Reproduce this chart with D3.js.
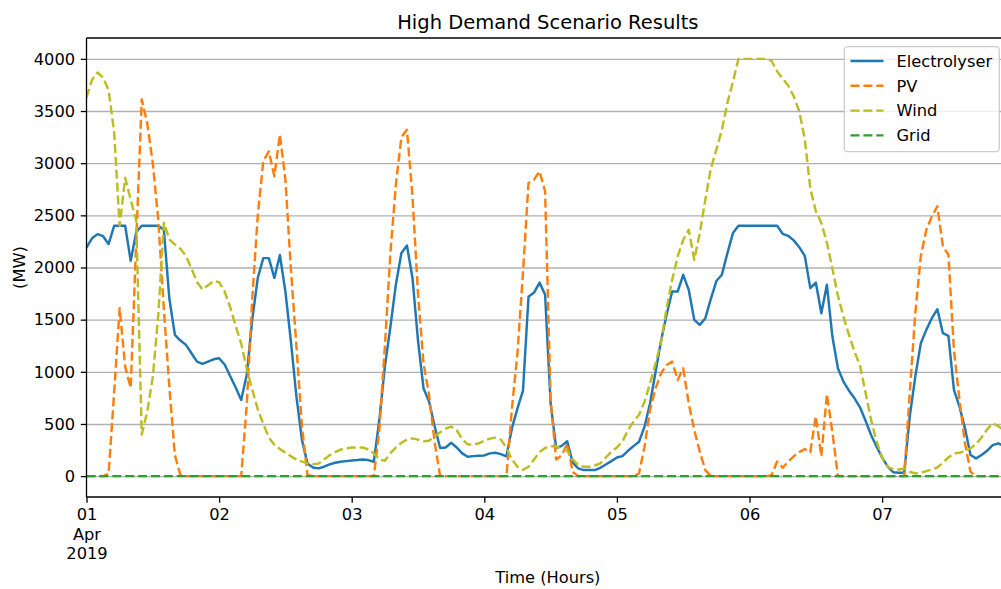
<!DOCTYPE html>
<html>
<head>
<meta charset="utf-8">
<script src="https://cdn.jsdelivr.net/npm/d3@7"></script>
<style>
  html, body { margin: 0; padding: 0; background: #fff; }
  svg { display: block; font-family: "DejaVu Sans", sans-serif; }
</style>
</head>
<body>
<svg id="chart" width="1001" height="589"></svg>
<script>
// Hourly dispatch, 1 Apr 2019 00:00 onwards (MW)
const electrolyser = [
  2190, 2280, 2320, 2300, 2225, 2400, 2400, 2400, 2064, 2340, 2400, 2400,
  2400, 2400, 2360, 1700, 1354, 1300, 1258, 1178, 1098, 1075, 1098, 1120,
  1130, 1070, 960, 850, 730, 970, 1500, 1900, 2090, 2090, 1900, 2120,
  1770, 1290, 760, 345, 120, 83, 74, 90, 112, 128, 138, 144,
  150, 154, 160, 154, 138, 540, 1050, 1430, 1840, 2140, 2210, 1900,
  1300, 840, 715, 480, 270, 275, 320, 275, 218, 186, 192, 195,
  198, 218, 224, 211, 190, 460, 650, 820, 1720, 1760, 1855, 1740,
  700, 270, 290, 335, 130, 74, 58, 58, 58, 80, 112, 144,
  179, 192, 243, 288, 330, 474, 698, 1000, 1300, 1550, 1770, 1770,
  1930, 1786, 1498, 1450, 1514, 1700, 1870, 1930, 2138, 2330, 2400, 2400,
  2400, 2400, 2400, 2400, 2400, 2400, 2323, 2304, 2260, 2195, 2112, 1802,
  1856, 1562, 1834, 1338, 1034, 906, 819, 746, 660, 531, 394, 282,
  179, 90, 38, 32, 32, 570, 954, 1274, 1402, 1514, 1600, 1370,
  1344, 826, 666, 458, 202, 170, 202, 243, 298, 314, 290, 280
];

const pv = [
  0, 0, 0, 0, 20, 800, 1610, 1050, 845, 2250, 3610, 3380,
  3000, 2450, 1600, 850, 200, 10, 0, 0, 0, 0, 0, 0,
  0, 0, 0, 0, 0, 680, 1700, 2500, 3018, 3114, 2874, 3274,
  2842, 1978, 1242, 474, 10, 0, 0, 0, 0, 0, 0, 0,
  0, 0, 0, 0, 0, 442, 1242, 2138, 2800, 3250, 3320, 2680,
  1750, 1080, 780, 330, 0, 0, 0, 0, 0, 0, 0, 0,
  0, 0, 0, 0, 0, 650, 1180, 1950, 2810, 2842, 2922, 2730,
  730, 160, 200, 310, 40, 0, 0, 0, 0, 0, 0, 0,
  0, 0, 0, 0, 26, 282, 634, 842, 986, 1066, 1098, 922,
  1034, 698, 442, 234, 58, 0, 0, 0, 0, 0, 0, 0,
  0, 0, 0, 0, 10, 140, 80, 140, 190, 230, 260, 230,
  575, 190, 786, 420, 0, 0, 0, 0, 0, 0, 0, 0,
  0, 0, 0, 0, 0, 794, 1560, 2106, 2362, 2490, 2586, 2202,
  2122, 1210, 730, 314, 42, 0, 0, 0, 0, 0, 0, 0
];

const wind = [
  3630, 3800, 3870, 3820, 3700, 3300, 2400, 2860, 2650, 2450, 400, 620,
  950, 1550, 2430, 2270, 2220, 2180, 2110, 1990, 1860, 1790, 1830, 1870,
  1860, 1770, 1620, 1440, 1270, 1030, 830, 640, 500, 370, 300, 260,
  225, 190, 160, 140, 122, 115, 120, 160, 200, 230, 255, 265,
  275, 275, 275, 255, 220, 160, 147, 220, 275, 320, 350, 362,
  350, 335, 340, 380, 420, 455, 475, 440, 355, 305, 300, 315,
  340, 360, 368, 350, 270, 160, 90, 60, 90, 160, 230, 270,
  288, 282, 266, 243, 160, 106, 90, 90, 102, 122, 179, 234,
  275, 330, 442, 522, 586, 714, 890, 1082, 1290, 1610, 1882, 2106,
  2266, 2362, 2074, 2330, 2650, 2950, 3130, 3320, 3580, 3780, 4000, 4000,
  4000, 4000, 4000, 4000, 3980, 3880, 3810, 3745, 3640, 3500, 3230, 2760,
  2540, 2426, 2240, 1990, 1730, 1530, 1354, 1194, 1060, 800, 540, 330,
  180, 90, 64, 64, 70, 42, 26, 32, 48, 64, 83, 128,
  179, 218, 224, 240, 266, 307, 371, 448, 506, 480, 440, 420
];

const grid = [
  0, 0, 0, 0, 0, 0, 0, 0, 0, 0, 0, 0, 0, 0, 0, 0, 0, 0, 0, 0, 0, 0, 0, 0,
  0, 0, 0, 0, 0, 0, 0, 0, 0, 0, 0, 0, 0, 0, 0, 0, 0, 0, 0, 0, 0, 0, 0, 0,
  0, 0, 0, 0, 0, 0, 0, 0, 0, 0, 0, 0, 0, 0, 0, 0, 0, 0, 0, 0, 0, 0, 0, 0,
  0, 0, 0, 0, 0, 0, 0, 0, 0, 0, 0, 0, 0, 0, 0, 0, 0, 0, 0, 0, 0, 0, 0, 0,
  0, 0, 0, 0, 0, 0, 0, 0, 0, 0, 0, 0, 0, 0, 0, 0, 0, 0, 0, 0, 0, 0, 0, 0,
  0, 0, 0, 0, 0, 0, 0, 0, 0, 0, 0, 0, 0, 0, 0, 0, 0, 0, 0, 0, 0, 0, 0, 0,
  0, 0, 0, 0, 0, 0, 0, 0, 0, 0, 0, 0, 0, 0, 0, 0, 0, 0, 0, 0, 0, 0, 0, 0
];

const seriesNames = ["Electrolyser", "PV", "Wind", "Grid"];
const seriesColors = ["#1f77b4", "#ff7f0e", "#bcbd22", "#2ca02c"];
const seriesDashed = [false, true, true, true];
const yTicks = [0, 500, 1000, 1500, 2000, 2500, 3000, 3500, 4000];
const dayLabels = ["01", "02", "03", "04", "05", "06", "07"];
const firstDayExtra = ["Apr", "2019"];

const titleText = "High Demand Scenario Results";
const xLabelText = "Time (Hours)";
const yLabelText = "(MW)";

// ---- layout ----
const plotLeft = 86.5, plotRight = 1009.2, plotTop = 38, plotBottom = 497;
const tickFont = 16.25, titleFont = 19.5;
const lw = 2.44, thin = 1.3, tickLen = 5.7, tickPad = 5.7;

const svg = d3.select("#chart");
const start = new Date(Date.UTC(2019, 3, 1, 0));
const times = electrolyser.map((_, i) => d3.utcHour.offset(start, i));

const x = d3.scaleUtc()
  .domain([times[0], times[times.length - 1]])
  .range([plotLeft, plotRight]);
const y = d3.scaleLinear().domain([-200, 4200]).range([plotBottom, plotTop]);

// clip region for the plot area
svg.append("defs").append("clipPath").attr("id", "plotClip")
  .append("rect")
  .attr("x", plotLeft).attr("y", plotTop)
  .attr("width", plotRight - plotLeft).attr("height", plotBottom - plotTop);

// horizontal gridlines
svg.append("g")
  .attr("transform", `translate(${plotLeft},0)`)
  .call(d3.axisLeft(y).tickValues(yTicks).tickSize(-(plotRight - plotLeft)).tickFormat(""))
  .call(g => g.select(".domain").remove())
  .call(g => g.selectAll("line").attr("stroke", "#b0b0b0").attr("stroke-width", thin));

// series lines
const lineGen = d3.line()
  .x((d, i) => x(times[i]))
  .y(d => y(d));

const allSeries = [electrolyser, pv, wind, grid];
const linesG = svg.append("g").attr("clip-path", "url(#plotClip)");
allSeries.forEach((vals, k) => {
  linesG.append("path")
    .datum(vals)
    .attr("fill", "none")
    .attr("stroke", seriesColors[k])
    .attr("stroke-width", lw)
    .attr("stroke-linejoin", "round")
    .attr("stroke-linecap", seriesDashed[k] ? "butt" : "square")
    .attr("stroke-dasharray", seriesDashed[k] ? "9,3.9" : null)
    .attr("d", lineGen);
});

// y axis
const yAxis = svg.append("g")
  .attr("transform", `translate(${plotLeft},0)`)
  .call(d3.axisLeft(y).tickValues(yTicks).tickSize(tickLen).tickPadding(tickPad).tickFormat(d3.format("d")));
yAxis.select(".domain").remove();
yAxis.selectAll("line").attr("stroke", "#000").attr("stroke-width", thin);
yAxis.selectAll("text")
  .attr("font-family", "DejaVu Sans").attr("font-size", tickFont).attr("fill", "#000");

// x axis: one tick per day
const dayTicks = dayLabels.map((_, i) => d3.utcDay.offset(start, i));
const xAxis = svg.append("g")
  .attr("transform", `translate(0,${plotBottom})`)
  .call(d3.axisBottom(x).tickValues(dayTicks).tickSize(tickLen).tickPadding(tickPad)
    .tickFormat((d, i) => dayLabels[i]));
xAxis.select(".domain").remove();
xAxis.selectAll("line").attr("stroke", "#000").attr("stroke-width", thin);
xAxis.selectAll("text")
  .attr("font-family", "DejaVu Sans").attr("font-size", tickFont).attr("fill", "#000")
  .attr("dy", "0.74em");
xAxis.selectAll(".tick").filter((d, i) => i === 0).select("text")
  .each(function () {
    const t = d3.select(this);
    firstDayExtra.forEach(s => {
      t.append("tspan").attr("x", 0).attr("dy", "1.2em").text(s);
    });
  });

// spines
const spineG = svg.append("g").attr("stroke", "#000").attr("stroke-width", thin).attr("fill", "none");
spineG.append("line").attr("x1", plotLeft).attr("x2", plotLeft).attr("y1", plotTop).attr("y2", plotBottom);
spineG.append("line").attr("x1", plotLeft).attr("x2", plotRight).attr("y1", plotBottom).attr("y2", plotBottom);
spineG.append("line").attr("x1", plotLeft).attr("x2", plotRight).attr("y1", plotTop).attr("y2", plotTop);
spineG.append("line").attr("x1", plotRight).attr("x2", plotRight).attr("y1", plotTop).attr("y2", plotBottom);

// title and axis labels
const midX = (plotLeft + plotRight) / 2;
svg.append("text").attr("x", midX).attr("y", 28.5)
  .attr("text-anchor", "middle").attr("font-size", titleFont).attr("fill", "#000")
  .text(titleText);
svg.append("text").attr("x", midX).attr("y", 583)
  .attr("text-anchor", "middle").attr("font-size", tickFont).attr("fill", "#000")
  .text(xLabelText);
svg.append("text")
  .attr("transform", `translate(25,${(plotTop + plotBottom) / 2}) rotate(-90)`)
  .attr("text-anchor", "middle").attr("font-size", tickFont).attr("fill", "#000")
  .text(yLabelText);

// legend
const lgX = 844.3, lgY = 46.7, lgW = 155, lgH = 105;
const legend = svg.append("g");
legend.append("rect")
  .attr("x", lgX).attr("y", lgY).attr("width", lgW).attr("height", lgH)
  .attr("rx", 3.5).attr("ry", 3.5)
  .attr("fill", "#fff").attr("fill-opacity", 0.8)
  .attr("stroke", "#cccccc").attr("stroke-width", thin);
seriesNames.forEach((name, k) => {
  const cy = 61 + k * 24.8;
  legend.append("line")
    .attr("x1", 850.5).attr("x2", 883.5).attr("y1", cy).attr("y2", cy)
    .attr("stroke", seriesColors[k]).attr("stroke-width", lw)
    .attr("stroke-dasharray", seriesDashed[k] ? "9,3.9" : null);
  legend.append("text")
    .attr("x", 896.5).attr("y", cy).attr("dy", "0.36em")
    .attr("font-size", tickFont).attr("fill", "#000")
    .text(name);
});
</script>
</body>
</html>
